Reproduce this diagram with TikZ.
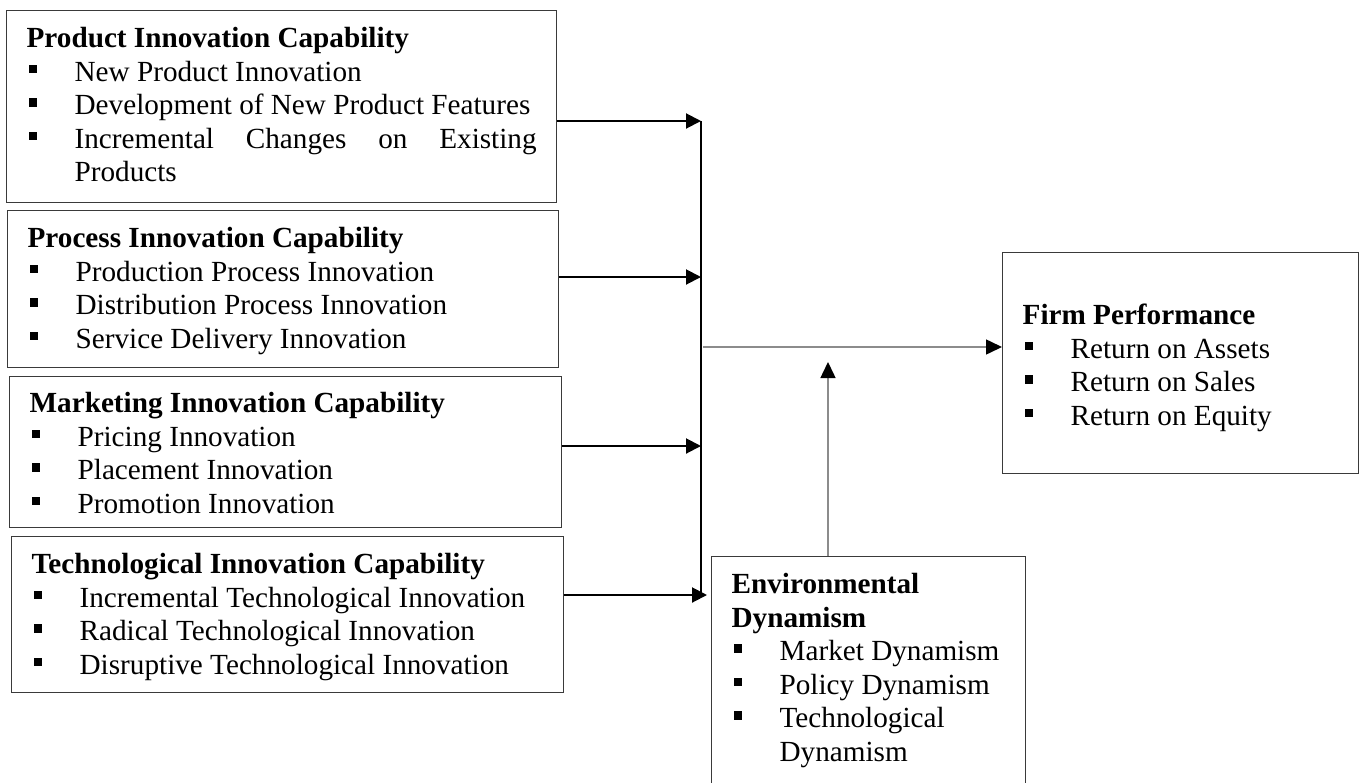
\documentclass[tikz,border=0pt]{standalone}
\usepackage{fontspec}
\setmainfont{Liberation Serif}
\usetikzlibrary{arrows.meta,calc}
\setlength\parskip{0pt}
\hyphenpenalty=10000
\exhyphenpenalty=10000
\newcommand\bitem[1]{\par\noindent\hangindent=48pt\hangafter=1\makebox[48pt][l]{\hspace{2pt}\raisebox{8pt}{\rule{8.5pt}{8.5pt}}}#1}
\newcommand\boxfont{\fontsize{29.2}{33.5}\selectfont\hyphenpenalty=10000\relax\exhyphenpenalty=10000\relax}
\definecolor{boxgray}{HTML}{3A3A3A}
\definecolor{linegray}{HTML}{8C8C8C}
\tikzset{
  mybox/.style={draw=boxgray, line width=1.3pt, anchor=north west, inner xsep=20pt, inner ysep=0pt,
    align=justify, text height=37pt, font=\boxfont},
  busline/.style={line width=2pt, black},
  feed/.style={line width=2pt, black, -{Triangle[length=15pt,width=15pt]}},
  grayarrow/.style={line width=1.5pt, linegray, -{Triangle[length=16pt,width=15pt,color=black]}}
}
\begin{document}
\begin{tikzpicture}[x=1pt,y=-1pt]
\clip (0,0) rectangle (1363,782);
\useasboundingbox (0,0) rectangle (1363,782);

\node[mybox, text width=510pt, text depth=155pt] (b1) at (6,10)
  {\textbf{Product Innovation Capability}
   \bitem{New Product Innovation}
   \bitem{Development of New Product Features}
   \bitem{Incremental Changes on Existing Products}\par};

\node[mybox, text width=511pt, text depth=120pt] (b2) at (7,210)
  {\textbf{Process Innovation Capability}
   \bitem{Production Process Innovation}
   \bitem{Distribution Process Innovation}
   \bitem{Service Delivery Innovation}\par};

\node[mybox, text width=512pt, text height=36pt, text depth=115pt] (b3) at (9,376)
  {\textbf{Marketing Innovation Capability}
   \bitem{Pricing Innovation}
   \bitem{Placement Innovation}
   \bitem{Promotion Innovation}\par};

\node[mybox, text width=512pt, text depth=119pt] (b4) at (11,536)
  {\textbf{Technological Innovation Capability}
   \bitem{Incremental Technological Innovation}
   \bitem{Radical Technological Innovation}
   \bitem{Disruptive Technological Innovation}\par};

\node[mybox, text width=274pt, text depth=207pt] (env) at (711,556)
  {\textbf{Environmental Dynamism}
   \bitem{Market Dynamism}
   \bitem{Policy Dynamism}
   \bitem{Technological Dynamism}\par};

\node[mybox, text width=316pt, text height=72pt, text depth=149pt] (firm) at (1002,252)
  {\textbf{Firm Performance}
   \bitem{Return on Assets}
   \bitem{Return on Sales}
   \bitem{Return on Equity}\par};

\coordinate (t1) at (701,121);
\coordinate (t2) at (701,277);
\coordinate (t3) at (701,446);
\coordinate (t4) at (701,595);
\coordinate (m) at (703,347);
\coordinate (up) at (828,362);

\draw[busline] (t1) -- (t4);
\draw[feed] (b1.east |- t1) -- (t1);
\draw[feed] (b2.east |- t2) -- (t2);
\draw[feed] (b3.east |- t3) -- (t3);
\draw[feed] (b4.east |- t4) -- ($(env.west |- t4)+(-4,0)$);
\draw[grayarrow] (m) -- (firm.west |- m);
\draw[grayarrow] (env.north -| up) -- (up);
\end{tikzpicture}
\end{document}
